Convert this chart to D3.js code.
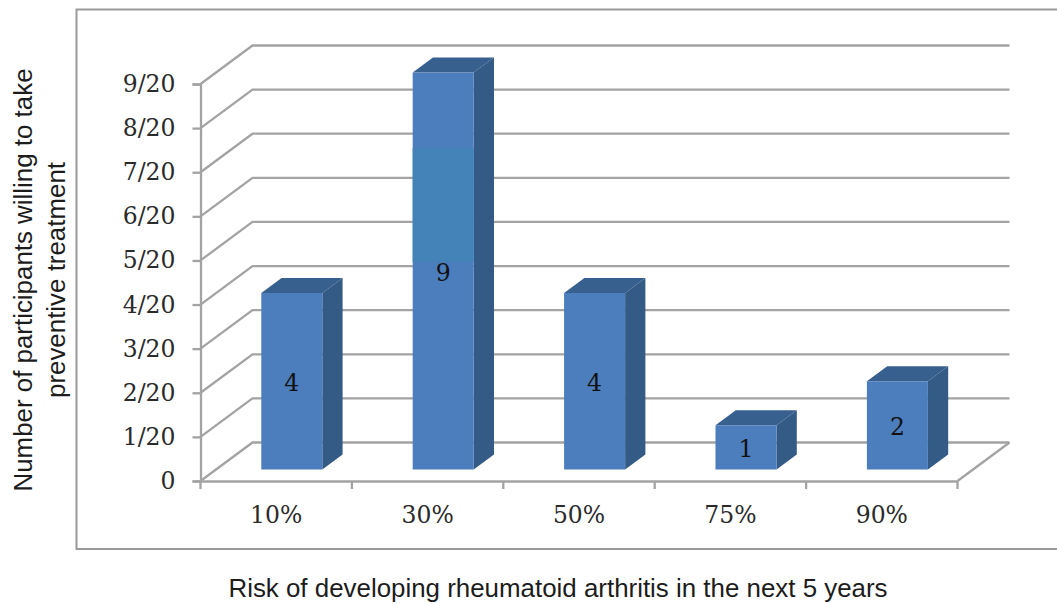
<!DOCTYPE html>
<meta charset="utf-8">
<style>
    body { margin: 0; background: #fff; }
    svg { display: block; }
    .tick-label { font-family: "DejaVu Serif"; font-size: 23.5px; fill: #2a2a2a; }
    .title { font-family: "Liberation Sans"; font-size: 25.9px; fill: #1c1c1c; }
</style>
<script src="https://d3js.org/d3.v7.min.js"></script>
<body>
<svg></svg>
</body>
<script>

    var categories = ['10%', '30%', '50%', '75%', '90%'];
    var values = [4, 9, 4, 1, 2];
    var yTicks = [0, 1, 2, 3, 4, 5, 6, 7, 8, 9];
    var yTickLabels = ['0', '1/20', '2/20', '3/20', '4/20', '5/20', '6/20', '7/20', '8/20', '9/20'];
    // odd teal patch on the tall bar, in axis units
    var patchRange = [4.7, 7.3];

    var svg = d3.select('svg').attr('width', 1057).attr('height', 604);

    var x = d3.scaleBand().domain(categories).range([200.5, 957.5]);
    var y = d3.scaleLinear().domain([0, 9]).range([481, 84]);

    // 3d look: depth 0 is the front of the floor, 1 is the back wall
    var depthX = d3.scaleLinear().domain([0, 1]).range([0, 52]);
    var depthY = d3.scaleLinear().domain([0, 1]).range([0, -38.5]);
    var barFront = 0.30, barBack = 0.69;
    var barW = x.bandwidth() * 0.403;

    function pt(px, v, depth) {
        return [px + depthX(depth), y(v) + depthY(depth)];
    }
    var line = d3.line();
    var gridColor = '#a3a3a3';
    var gridWidth = 2.3;

    // outer frame, runs off the right edge
    svg.append('path')
        .attr('d', 'M1057,9.5H76.5V549H1057')
        .attr('fill', 'none')
        .attr('stroke', '#9a9a9a')
        .attr('stroke-width', 2);

    // gridlines: side wall then back wall
    svg.append('g').selectAll('path')
        .data(yTicks)
        .join('path')
        .attr('d', function (d) {
            return line([pt(x.range()[0], d, 0), pt(x.range()[0], d, 1), pt(x.range()[1], d, 1)]);
        })
        .attr('fill', 'none')
        .attr('stroke', gridColor)
        .attr('stroke-width', gridWidth);

    // floor right edge
    svg.append('path')
        .attr('d', line([pt(x.range()[1], 0, 0), pt(x.range()[1], 0, 1)]))
        .attr('fill', 'none')
        .attr('stroke', gridColor)
        .attr('stroke-width', gridWidth);

    // y axis
    var yAxis = d3.axisLeft(y)
        .tickValues(yTicks)
        .tickSize(8)
        .tickPadding(17)
        .tickFormat(function (d, i) { return yTickLabels[i]; });
    var yG = svg.append('g').attr('transform', 'translate(200.5,0)').call(yAxis);

    // x axis, ticks sit between the categories
    var xAxis = d3.axisBottom(x).tickSize(0).tickPadding(25);
    var xG = svg.append('g').attr('transform', 'translate(0,481)').call(xAxis);
    xG.append('g').selectAll('line')
        .data(categories.concat(['end']))
        .join('line')
        .attr('x1', function (d, i) { return x.range()[0] + i * x.bandwidth(); })
        .attr('x2', function (d, i) { return x.range()[0] + i * x.bandwidth(); })
        .attr('y1', 0)
        .attr('y2', 8)
        .attr('stroke', gridColor)
        .attr('stroke-width', gridWidth);

    [yG, xG].forEach(function (g) {
        g.selectAll('.domain').attr('stroke', gridColor).attr('stroke-width', gridWidth);
        g.selectAll('.tick line').attr('stroke', gridColor).attr('stroke-width', gridWidth);
        g.selectAll('text').attr('class', 'tick-label').attr('font-family', null).attr('font-size', null);
    });
    yG.attr('font-family', null).attr('font-size', null);
    xG.attr('font-family', null).attr('font-size', null);

    // bars
    var bars = svg.append('g').selectAll('g')
        .data(categories)
        .join('g');

    bars.each(function (c, i) {
        var g = d3.select(this);
        var l = x(c) + (x.bandwidth() - barW) / 2;
        var r = l + barW;
        var v = values[i];
        // top
        g.append('path')
            .attr('d', line([pt(l, v, barFront), pt(r, v, barFront), pt(r, v, barBack), pt(l, v, barBack)]) + 'Z')
            .attr('fill', '#38608f');
        // side
        g.append('path')
            .attr('d', line([pt(r, 0, barFront), pt(r, v, barFront), pt(r, v, barBack), pt(r, 0, barBack)]) + 'Z')
            .attr('fill', '#345a86');
        // front
        g.append('path')
            .attr('d', line([pt(l, 0, barFront), pt(r, 0, barFront), pt(r, v, barFront), pt(l, v, barFront)]) + 'Z')
            .attr('fill', '#4c7dbd');
        if (v >= patchRange[1]) {
            g.append('path')
                .attr('d', line([pt(l, patchRange[0], barFront), pt(r, patchRange[0], barFront), pt(r, patchRange[1], barFront), pt(l, patchRange[1], barFront)]) + 'Z')
                .attr('fill', '#4383b8');
        }
        // value label
        var c0 = pt((l + r) / 2, v / 2, barFront);
        g.append('text')
            .attr('class', 'tick-label')
            .attr('x', c0[0])
            .attr('y', c0[1])
            .attr('dy', '0.42em')
            .attr('text-anchor', 'middle')
            .style('fill', '#111')
            .text(v);
    });

    // axis titles
    svg.append('text')
        .attr('class', 'title')
        .attr('text-anchor', 'middle')
        .attr('transform', 'translate(32,280) rotate(-90)')
        .text('Number of participants willing to take');
    svg.append('text')
        .attr('class', 'title')
        .attr('text-anchor', 'middle')
        .attr('transform', 'translate(65,280) rotate(-90)')
        .text('preventive treatment');
    svg.append('text')
        .attr('class', 'title')
        .attr('text-anchor', 'middle')
        .attr('x', 558)
        .attr('y', 597)
        .text('Risk of developing rheumatoid arthritis in the next 5 years');

</script>
</html>
